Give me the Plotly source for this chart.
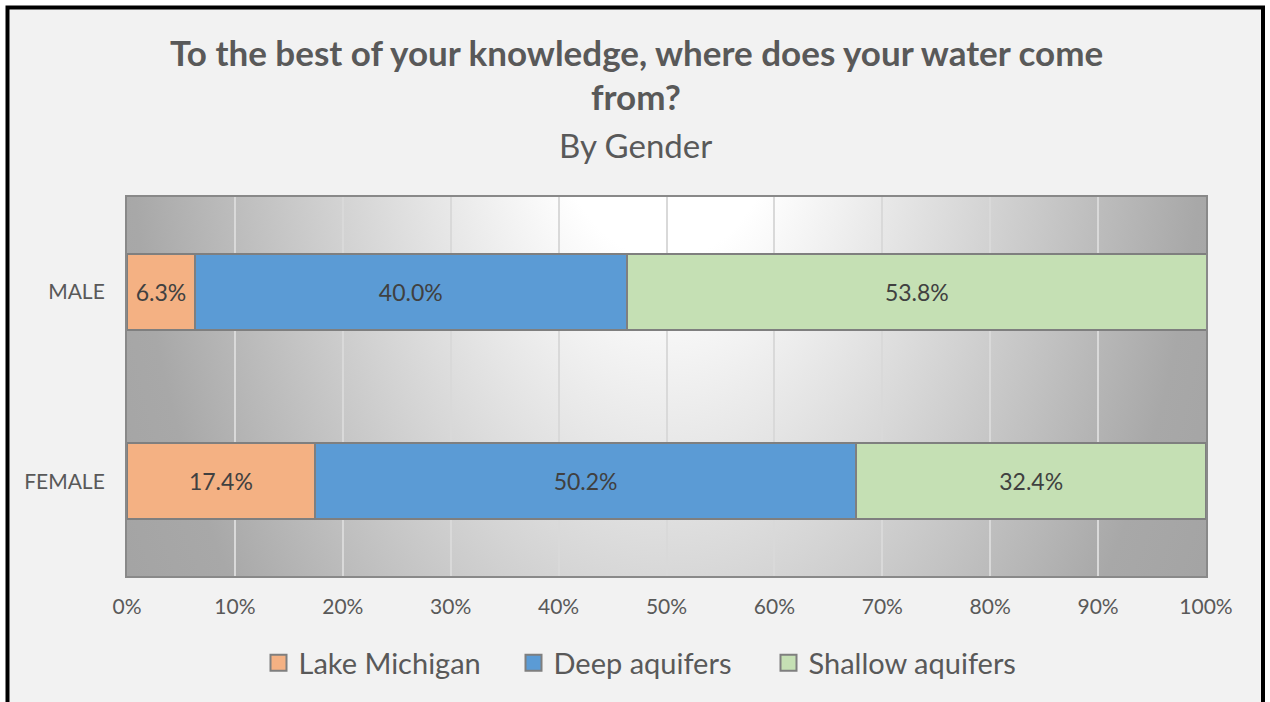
import base64
import plotly.graph_objects as go

# Survey results: share of respondents naming each water source
genders = ["FEMALE", "MALE"]
lake_michigan = [0.174, 0.063]
deep_aquifers = [0.502, 0.400]
shallow_aquifers = [0.324, 0.538]
x_ticks = [0, 0.1, 0.2, 0.3, 0.4, 0.5, 0.6, 0.7, 0.8, 0.9, 1.0]
x_tick_labels = ["0%", "10%", "20%", "30%", "40%", "50%", "60%", "70%", "80%", "90%", "100%"]

W, H = 1270, 702
ML, MR, MT, MB = 127, 64, 197, 126
PW, PH = W - ML - MR, H - MT - MB


def px_x(p):
    return (p - ML) / PW


def px_y(p):
    return (H - MB - p) / PH


FONT = "Lato"
GREY_TEXT = "#595959"
OUTLINE = "#7f7f7f"

fig = go.Figure()

series = [
    ("Lake Michigan", lake_michigan, "#f4b183"),
    ("Deep aquifers", deep_aquifers, "#5b9bd5"),
    ("Shallow aquifers", shallow_aquifers, "#c5e0b4"),
]
for name, vals, color in series:
    fig.add_trace(go.Bar(
        name=name,
        y=genders,
        x=vals,
        orientation="h",
        marker=dict(color=color, line=dict(color=OUTLINE, width=2)),
        texttemplate="%{x:.1%}",
        textposition="inside",
        insidetextanchor="middle",
        textangle=0,
        textfont=dict(family=FONT, size=23, color="#404040"),
        hoverinfo="skip",
        showlegend=False,
    ))

# Legend entries with larger square swatches
for name, _, color in series:
    fig.add_trace(go.Scatter(
        name=name, x=[None], y=[None], mode="markers",
        marker=dict(symbol="square", size=16, color=color,
                    line=dict(color=OUTLINE, width=2)),
        hoverinfo="skip", showlegend=True,
    ))

# Radial shading behind the plot area
cx, cy = PW / 2, -158
svg = f"""<svg xmlns="http://www.w3.org/2000/svg" width="{PW}" height="{PH}" viewBox="0 0 {PW} {PH}" preserveAspectRatio="none">
<defs><radialGradient id="g" gradientUnits="userSpaceOnUse" cx="{cx}" cy="{cy}" r="640"
 gradientTransform="translate({cx} {cy}) scale(1 1.7) translate({-cx} {-cy})">
<stop offset="0" stop-color="#ffffff"/>
<stop offset="0.203" stop-color="#ffffff"/>
<stop offset="0.5" stop-color="#d7d7d7"/>
<stop offset="0.844" stop-color="#a8a8a8"/>
<stop offset="1" stop-color="#a3a3a3"/>
</radialGradient></defs>
<rect x="0" y="0" width="{PW}" height="{PH}" fill="url(#g)"/></svg>"""
svg_uri = "data:image/svg+xml;base64," + base64.b64encode(svg.encode()).decode()

fig.add_layout_image(
    source=svg_uri, xref="x domain", yref="y domain",
    x=0, y=1, sizex=1, sizey=1, xanchor="left", yanchor="top",
    sizing="stretch", layer="below",
)

# Chart frame
fig.add_shape(
    type="rect", xref="paper", yref="paper", layer="below",
    x0=px_x(7.5), x1=px_x(1263), y0=px_y(720), y1=px_y(7.5),
    fillcolor="#f2f2f2", line=dict(color="black", width=4),
)

# Title lines
title_font = dict(family=FONT, size=35, color=GREY_TEXT)
fig.add_annotation(text="<b>To the best of your knowledge, where does your water come</b>",
                   xref="paper", yref="paper", x=px_x(636), y=px_y(52), yanchor="middle",
                   showarrow=False, font=title_font)
fig.add_annotation(text="<b>from?</b>",
                   xref="paper", yref="paper", x=px_x(636), y=px_y(96), yanchor="middle",
                   showarrow=False, font=title_font)
fig.add_annotation(text="By Gender",
                   xref="paper", yref="paper", x=px_x(635), y=px_y(145), yanchor="middle",
                   showarrow=False, font=dict(family=FONT, size=33, color=GREY_TEXT))

fig.update_layout(
    width=W, height=H,
    margin=dict(l=ML, r=MR, t=MT, b=MB),
    paper_bgcolor="white",
    plot_bgcolor="rgba(0,0,0,0)",
    barmode="stack",
    bargap=0.6,
    showlegend=True,
    legend=dict(
        orientation="h", x=px_x(641), xanchor="center", y=px_y(663), yanchor="middle",
        font=dict(family=FONT, size=29, color=GREY_TEXT),
        bgcolor="rgba(0,0,0,0)", traceorder="normal", itemclick=False,
        entrywidth=210, entrywidthmode="pixels",
    ),
    xaxis=dict(
        range=[0, 1], tickvals=x_ticks, ticktext=x_tick_labels,
        showgrid=True, gridcolor="#d9d9d9", gridwidth=2,
        showline=True, linecolor="#898989", linewidth=2, mirror=True,
        ticks="", ticklabelstandoff=11, zeroline=False,
        tickfont=dict(family=FONT, size=21, color=GREY_TEXT),
    ),
    yaxis=dict(
        categoryorder="array", categoryarray=genders,
        showline=True, linecolor="#898989", linewidth=2, mirror=True,
        ticks="", ticklabelstandoff=16, showgrid=False,
        tickfont=dict(family=FONT, size=21, color=GREY_TEXT),
    ),
)

fig.write_html("out.html")
